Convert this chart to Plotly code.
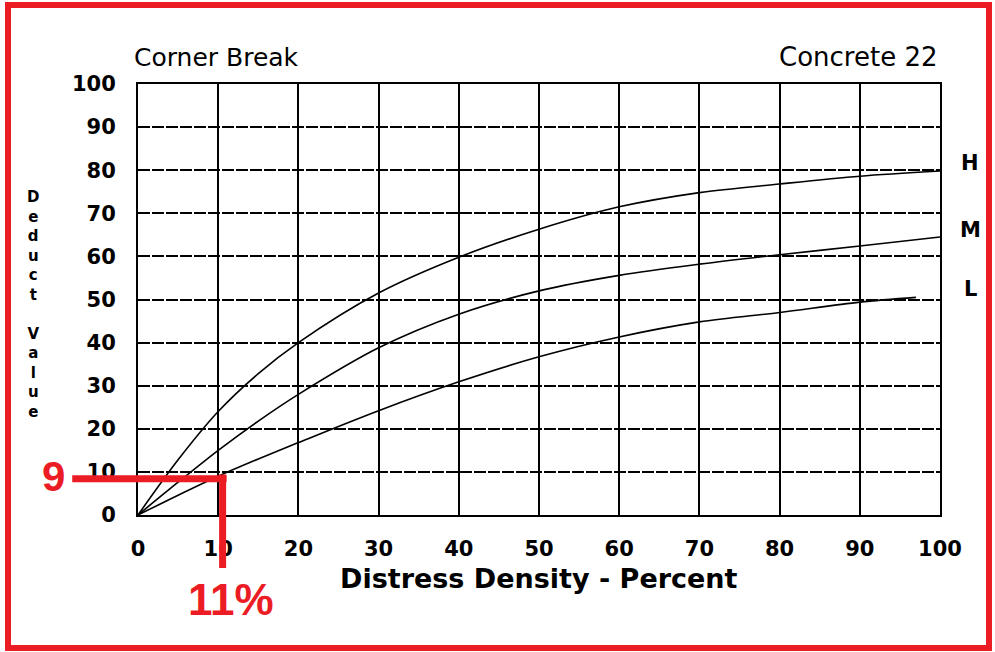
import plotly.graph_objects as go

# ---- data ----
density = [0, 5, 10, 15, 20, 30, 40, 50, 60, 70, 80, 90, 100]
high = [0, 12.8, 24, 32.8, 40, 51.5, 59.8, 66.3, 71.5, 74.8, 76.8, 78.6, 79.8]
medium = [0, 7.6, 15, 21.8, 28, 38.8, 46.6, 52, 55.6, 58.2, 60.4, 62.4, 64.5]
low_x = [0, 5, 10, 15, 20, 30, 40, 50, 60, 70, 80, 90, 97]
low = [0, 4.6, 9, 13, 16.8, 24.2, 30.9, 36.7, 41.3, 44.8, 47, 49.4, 50.5]
curve_labels = ["H", "M", "L"]
curve_label_y = [81.7, 66.1, 52.4]

x_ticks = list(range(0, 101, 10))
y_ticks = list(range(0, 101, 10))

# worked example (red)
example_density = 10.55
example_deduct_drawn = 8.4
example_deduct_text = "9"
example_density_text = "11%"

XMIN, XMAX, YMIN, YMAX = 0, 100, 0, 100

RED = "#ec1c24"
FONT = "DejaVu Sans, Verdana, sans-serif"
NARROW = "Liberation Sans Narrow, Arial Narrow, Liberation Sans, Arial, sans-serif"

fig = go.Figure()
for xs, ys in [(density, high), (density, medium), (low_x, low)]:
    fig.add_trace(go.Scatter(x=xs, y=ys, mode="lines",
                             line=dict(color="black", width=1.6, shape="spline", smoothing=0.9),
                             showlegend=False, hoverinfo="skip"))

def xd(v):
    return (v - XMIN) / (XMAX - XMIN)

def yd(v):
    return (v - YMIN) / (YMAX - YMIN)

shapes = []
# red worked-example lines (domain refs so they are not clipped)
shapes.append(dict(type="line", xref="x domain", yref="y domain",
                   x0=-0.082, x1=xd(example_density) + 0.005,
                   y0=yd(example_deduct_drawn), y1=yd(example_deduct_drawn),
                   line=dict(color=RED, width=7), layer="above"))
shapes.append(dict(type="line", xref="x domain", yref="y domain",
                   x0=xd(example_density), x1=xd(example_density),
                   y0=yd(example_deduct_drawn) + 0.01, y1=-0.123,
                   line=dict(color=RED, width=7), layer="above"))
# red frame around the picture
shapes.append(dict(type="rect", xref="paper", yref="paper",
                   x0=(8 - 138) / 802, x1=(989 - 138) / 802,
                   y0=(515 - 648) / 431, y1=(515 - 5) / 431,
                   line=dict(color=RED, width=6), fillcolor="rgba(0,0,0,0)", layer="above"))

annotations = [
    dict(text="Corner Break", xref="paper", yref="paper", x=-0.008, y=(515 - 57) / 431,
         xanchor="left", yanchor="middle", showarrow=False,
         font=dict(size=25, color="black", family=FONT)),
    dict(text="Concrete 22", xref="paper", yref="paper", x=1.0, y=(515 - 57) / 431,
         xanchor="right", yanchor="middle", showarrow=False,
         font=dict(size=26, color="black", family=FONT)),
    dict(text="<b>Distress Density - Percent</b>", xref="paper", yref="paper", x=0.5,
         y=(515 - 578) / 431, xanchor="center", yanchor="middle", showarrow=False,
         font=dict(size=27, color="black", family=FONT)),
    dict(text="<b>" + "<br>".join(list("Deduct Value")) + "</b>", xref="paper", yref="paper",
         x=(33 - 138) / 802, y=(515 - 304) / 431, xanchor="center", yanchor="middle",
         showarrow=False, font=dict(size=15, color="black", family=FONT)),
    dict(text="<b>" + example_deduct_text + "</b>", xref="paper", yref="y",
         x=(53 - 138) / 802, y=example_deduct_drawn + 0.6, xanchor="center", yanchor="middle",
         showarrow=False, font=dict(size=42, color=RED, family=NARROW)),
    dict(text="<b>" + example_density_text + "</b>", xref="x", yref="paper",
         x=example_density + 1.0, y=(515 - 599) / 431, xanchor="center", yanchor="middle",
         showarrow=False, font=dict(size=44, color=RED, family=NARROW)),
]
for lab, ly in zip(curve_labels, curve_label_y):
    annotations.append(dict(text="<b>" + lab + "</b>", xref="paper", yref="y",
                            x=(970 - 138) / 802, y=ly, xanchor="center", yanchor="middle",
                            showarrow=False, font=dict(size=21, color="black", family=FONT)))

fig.update_layout(
    width=995, height=652,
    margin=dict(l=138, r=55, t=84, b=137),
    paper_bgcolor="white", plot_bgcolor="white",
    font=dict(family=FONT, color="black"),
    shapes=shapes, annotations=annotations, showlegend=False,
)
fig.update_xaxes(range=[XMIN, XMAX], tickvals=x_ticks,
                 ticktext=["<b>%d</b>" % v for v in x_ticks],
                 showgrid=True, gridcolor="black", gridwidth=2,
                 zeroline=False, showline=True, linecolor="black", linewidth=2, mirror=True,
                 ticks="", ticklabelstandoff=14,
                 tickfont=dict(size=21, color="black", family=FONT))
fig.update_yaxes(range=[YMIN, YMAX], tickvals=y_ticks,
                 ticktext=["<b>%d</b>" % v for v in y_ticks],
                 showgrid=True, gridcolor="black", gridwidth=2, griddash="12px,2px",
                 zeroline=False, showline=True, linecolor="black", linewidth=2, mirror=True,
                 ticks="", ticklabelstandoff=16,
                 tickfont=dict(size=21, color="black", family=FONT))

fig.write_html("out.html")
